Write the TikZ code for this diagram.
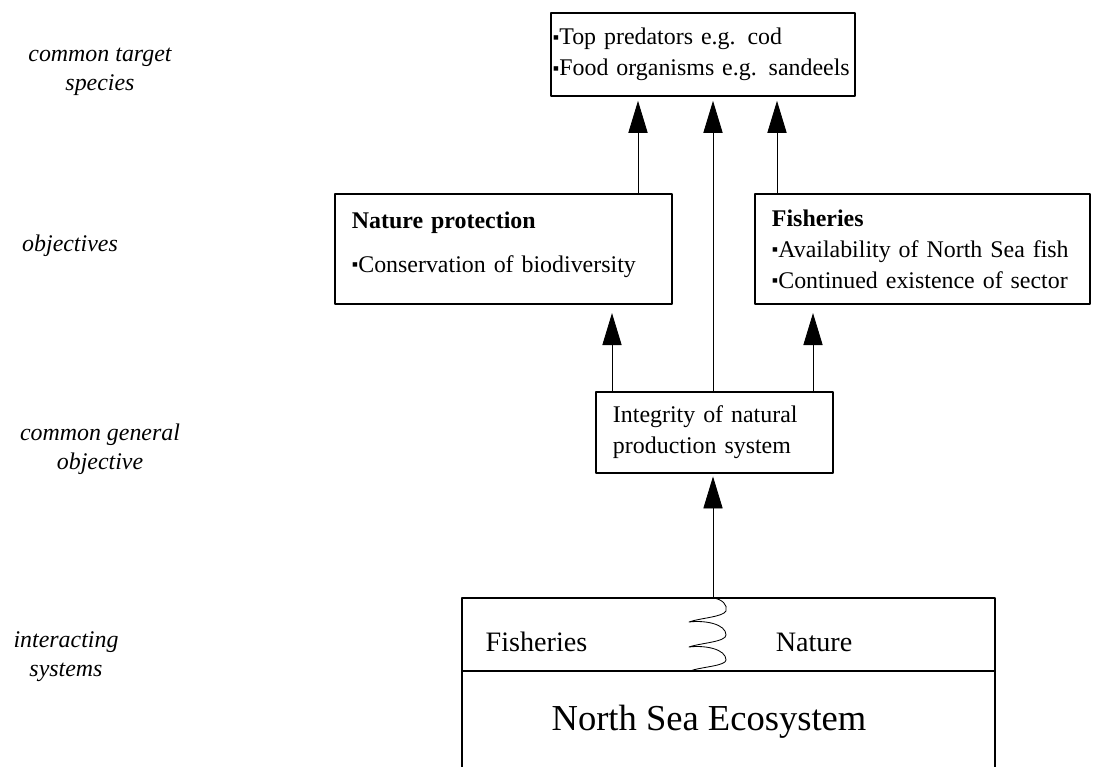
\documentclass[tikz,border=0pt]{standalone}
\usepackage{fontspec}
\setmainfont{Liberation Serif}
\usetikzlibrary{arrows.meta}

\newcommand{\sq}{\raisebox{0.12ex}{\scalebox{0.75}{▪}}}

\tikzset{
  box/.style={draw,line width=0.9pt,inner sep=0pt,align=left,font=\fontsize{17}{22}\selectfont},
  side/.style={align=center,font=\fontsize{17}{20.5}\selectfont\itshape},
  sys/.style={inner sep=0pt,font=\fontsize{20}{24}\selectfont},
  up/.style={-{Triangle[length=0.8cm,width=0.48cm]},line width=0.6pt},
}

\begin{document}
\begin{tikzpicture}[x=0.025cm,y=-0.025cm,line join=round]
\useasboundingbox (0,0) rectangle (1097,767);

% level names
\node[side] (lspecies) at (100,72) {common target\\species};
\node[side] (lobj) at (70,246) {objectives};
\node[side] (lgen) at (100,449) {common general\\objective};
\node[side] (lsys) at (66,657) {interacting\\systems};

% columns of the arrows
\coordinate (c0) at (713,0);
\coordinate (c1) at (638,0);
\coordinate (c2) at (777,0);
\coordinate (c3) at (612,0);
\coordinate (c4) at (813,0);

% boxes
\node[box,minimum width=7.6cm,minimum height=2.075cm,text width=7.5cm] (top) at (703,54.5)
  {\sq Top predators e.g. cod\\\sq Food organisms e.g. sandeels};
\node[box,minimum width=8.425cm,minimum height=2.75cm,text width=7.575cm] (natbox) at (503.5,249)
  {\begin{tabular}{@{}l@{}}\textbf{Nature protection}\\[9pt]\sq Conservation of biodiversity\\[7pt]\end{tabular}};
\node[box,minimum width=8.375cm,minimum height=2.75cm,text width=7.525cm] (fishbox) at (922.5,249)
  {\textbf{Fisheries}\\\sq Availability of North Sea fish\\\sq Continued existence of sector};
\node[box,minimum width=5.925cm,minimum height=2.025cm,text width=5.075cm] (integ) at (714.5,432.5)
  {Integrity of natural\\production system};

% interacting systems
\draw[line width=0.9pt] (462,767) |- (995,598) -- (995,767);
\draw[line width=0.9pt] (462,671) -- (995,671);
\coordinate (ecotop) at (713,598);
\node[sys] (fishsys) at (536.5,642) {Fisheries};
\node[sys] (natsys) at (814,642) {Nature};
\node[sys,font=\fontsize{26}{30}\selectfont] (eco) at (709,722) {North Sea Ecosystem};
\draw[line width=0.6pt] (ecotop) .. controls (722,599) and (728,605) .. (726,611)
  .. controls (723,617) and (700,618) .. (689,622)
  .. controls (705,620) and (726,624) .. (726,635)
  .. controls (726,642) and (700,643) .. (689,647)
  .. controls (705,645) and (726,649) .. (726,660)
  .. controls (726,666) and (700,667) .. (690,671);

% arrows
\draw[up,shorten >=2pt] (ecotop) -- (integ.south -| c0);
\draw[up,shorten >=6pt] (integ.north -| c3) -- (natbox.south -| c3);
\draw[up,shorten >=6pt] (integ.north -| c4) -- (fishbox.south -| c4);
\draw[up,shorten >=3pt] (integ.north -| c0) -- (top.south -| c0);
\draw[up,shorten >=3pt] (natbox.north -| c1) -- (top.south -| c1);
\draw[up,shorten >=3pt] (fishbox.north -| c2) -- (top.south -| c2);
\end{tikzpicture}
\end{document}
